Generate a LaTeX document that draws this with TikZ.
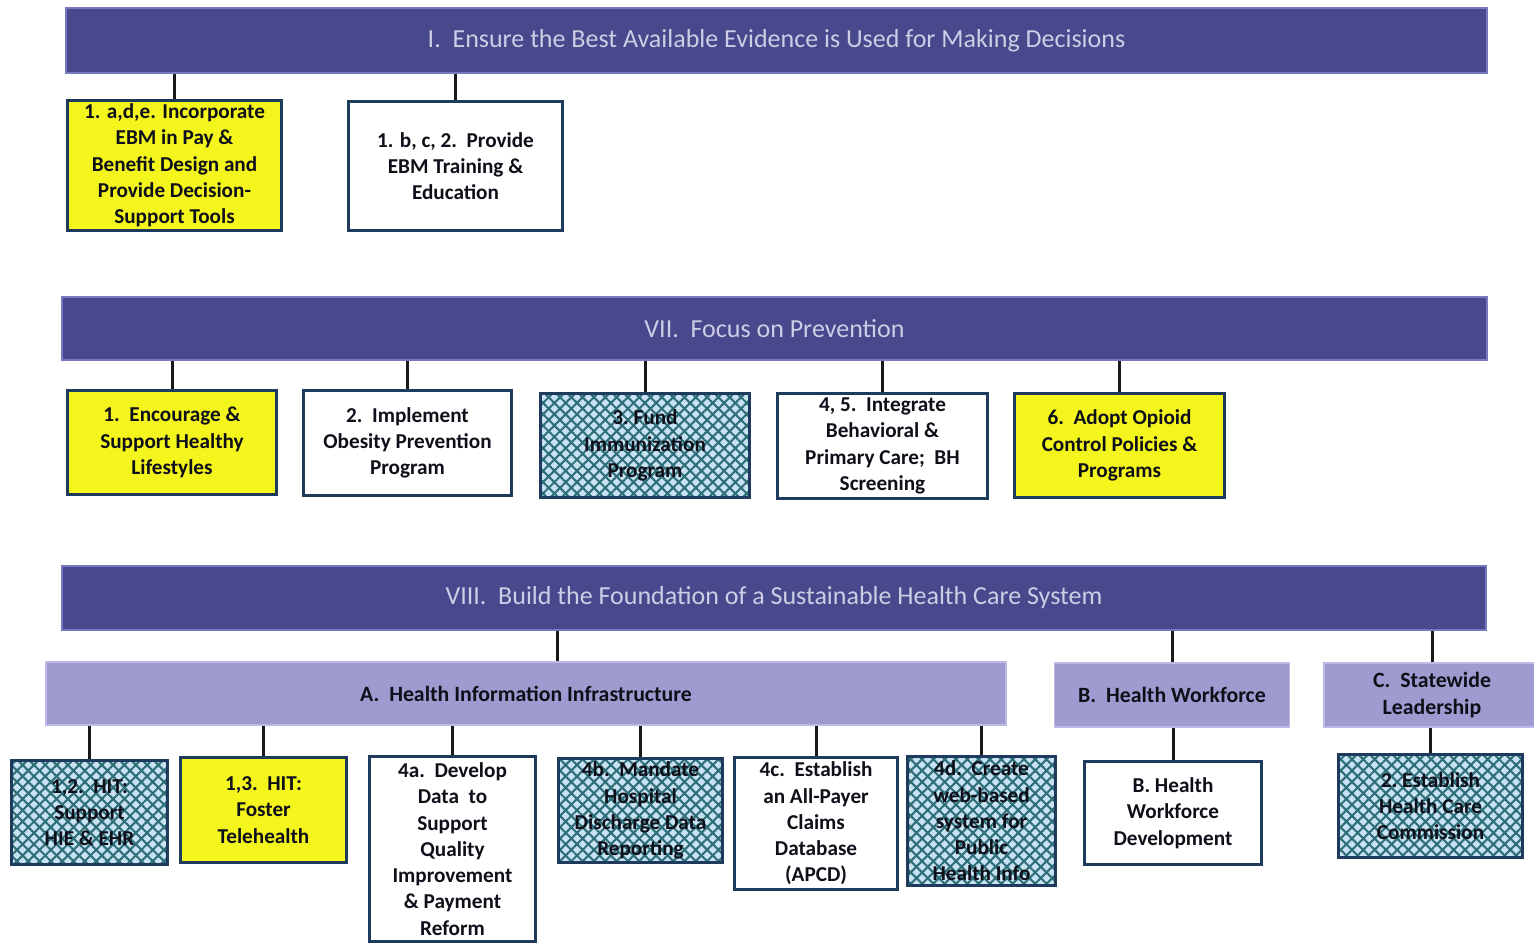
\documentclass[tikz,border=0pt]{standalone}
\usepackage{fontspec}
\setmainfont{Carlito}
\usetikzlibrary{patterns.meta}
\definecolor{barblue}{RGB}{72,72,140}
\definecolor{baredge}{RGB}{120,120,190}
\definecolor{bartext}{RGB}{205,205,230}
\definecolor{lav}{RGB}{159,155,208}
\definecolor{lavedge}{RGB}{190,186,232}
\definecolor{textdark}{RGB}{15,15,25}
\definecolor{boxline}{RGB}{30,58,92}
\definecolor{hlyellow}{RGB}{245,245,30}
\definecolor{hatchbg}{RGB}{200,226,242}
\definecolor{hatchline}{RGB}{45,110,120}
\tikzset{
  bar/.style={fill=barblue, draw=baredge, line width=1.2pt, inner sep=0pt,
    text=bartext, font=\fontsize{26}{30}\selectfont},
  subbar/.style={fill=lav, draw=lavedge, line width=1.2pt, inner sep=0pt, align=center,
    text=textdark, font=\bfseries\fontsize{21.8}{26.5}\selectfont},
  box/.style={draw=boxline, line width=3.5pt, inner sep=0pt, align=center,
    text=textdark, font=\bfseries\fontsize{21.2}{26.3}\selectfont},
  yel/.style={box, fill=hlyellow},
  wht/.style={box, fill=white},
  hatch/.style={box,
    preaction={fill=hatchbg},
    preaction={pattern={Lines[angle=45,distance=8pt,line width=2.1pt]}, pattern color=hatchline},
    preaction={pattern={Lines[angle=-45,distance=8pt,line width=2.1pt]}, pattern color=hatchline}},
  conn/.style={draw=black!90, line width=3pt}
}
\begin{document}
\begin{tikzpicture}[x=1pt,y=-1pt]
\useasboundingbox (0,0) rectangle (1534,946);
\clip (0,0) rectangle (1534,946);
% main bars
\node[bar, minimum width=1421, minimum height=65] (I) at (776.5,40.5)
  {I.\ \ Ensure the Best Available Evidence is Used for Making Decisions};
\node[bar, minimum width=1425, minimum height=63] (VII) at (774.5,328.5)
  {VII.\ \ Focus on Prevention};
\node[bar, minimum width=1424, minimum height=64] (VIII) at (774,598)
  {VIII.\ \ Build the Foundation of a Sustainable Health Care System};
% row 1
\node[yel, minimum width=214, minimum height=130] (e1) at (174.5,165.5)
  {1. a,d,e. Incorporate\\EBM in Pay \&\\Benefit Design and\\Provide Decision-\\Support Tools};
\node[wht, minimum width=214, minimum height=129] (e2) at (455.5,166)
  {1. b, c, 2.\ \ Provide\\EBM Training \&\\Education};
% row 2
\node[yel, minimum width=209, minimum height=104] (p1) at (172,442.5)
  {1.\ \ Encourage \&\\Support Healthy\\Lifestyles};
\node[wht, minimum width=208, minimum height=105] (p2) at (407.5,443)
  {2.\ \ Implement\\Obesity Prevention\\Program};
\node[hatch, minimum width=209, minimum height=104] (p3) at (645,445.5)
  {3.\ Fund\\Immunization\\Program};
\node[wht, minimum width=210, minimum height=105] (p4) at (882.5,446)
  {4, 5.\ \ Integrate\\Behavioral \&\\Primary Care;\ \ BH\\Screening};
\node[yel, minimum width=210, minimum height=104] (p5) at (1119.5,445.5)
  {6.\ \ Adopt Opioid\\Control Policies \&\\Programs};
% sub bars
\node[subbar, minimum width=960, minimum height=63] (A) at (526,693.5)
  {A.\ \ Health Information Infrastructure};
\node[subbar, minimum width=235, minimum height=64] (B) at (1172,695)
  {B.\ \ Health Workforce};
\node[subbar, minimum width=216, minimum height=64] (C) at (1432,695)
  {C.\ \ Statewide\\Leadership};
% row 4
\node[hatch, minimum width=156, minimum height=104] (h1) at (89.5,812.5)
  {1,2.\ \ HIT:\\Support\\HIE \& EHR};
\node[yel, minimum width=166, minimum height=105] (h2) at (263.5,810)
  {1,3.\ \ HIT:\\Foster\\Telehealth};
\node[wht, minimum width=166, minimum height=185] (h3) at (452.5,849)
  {4a.\ \ Develop\\Data\ \ to\\Support\\Quality\\Improvement\\\& Payment\\Reform};
\node[hatch, minimum width=164, minimum height=104] (h4) at (640.5,810.5)
  {4b.\ \ Mandate\\Hospital\\Discharge Data\\Reporting};
\node[wht, minimum width=163, minimum height=132] (h5) at (816,823.5)
  {4c.\ \ Establish\\an All-Payer\\Claims\\Database\\(APCD)};
\node[hatch, minimum width=148, minimum height=129] (h6) at (981.5,821)
  {4d.\ \ Create\\web-based\\system for\\Public\\Health Info};
\node[wht, minimum width=177, minimum height=103] (h7) at (1173,813)
  {B. Health\\Workforce\\Development};
\node[hatch, minimum width=184, minimum height=103] (h8) at (1430.5,806)
  {2.\ Establish\\Health Care\\Commission};
% connectors
\foreach \b in {e1,e2} \draw[conn] (\b.north) -- (\b.north |- I.south);
\foreach \b in {p1,p2,p3,p4,p5} \draw[conn] (\b.north) -- (\b.north |- VII.south);
\draw[conn] ([xshift=31pt]A.north) -- ([xshift=31pt]A.north |- VIII.south);
\draw[conn] (B.north) -- (B.north |- VIII.south);
\draw[conn] (C.north) -- (C.north |- VIII.south);
\foreach \b in {h1,h2,h3,h4,h5,h6} \draw[conn] (\b.north) -- (\b.north |- A.south);
\draw[conn] (h7.north) -- (h7.north |- B.south);
\draw[conn] (h8.north) -- (h8.north |- C.south);
\end{tikzpicture}
\end{document}
